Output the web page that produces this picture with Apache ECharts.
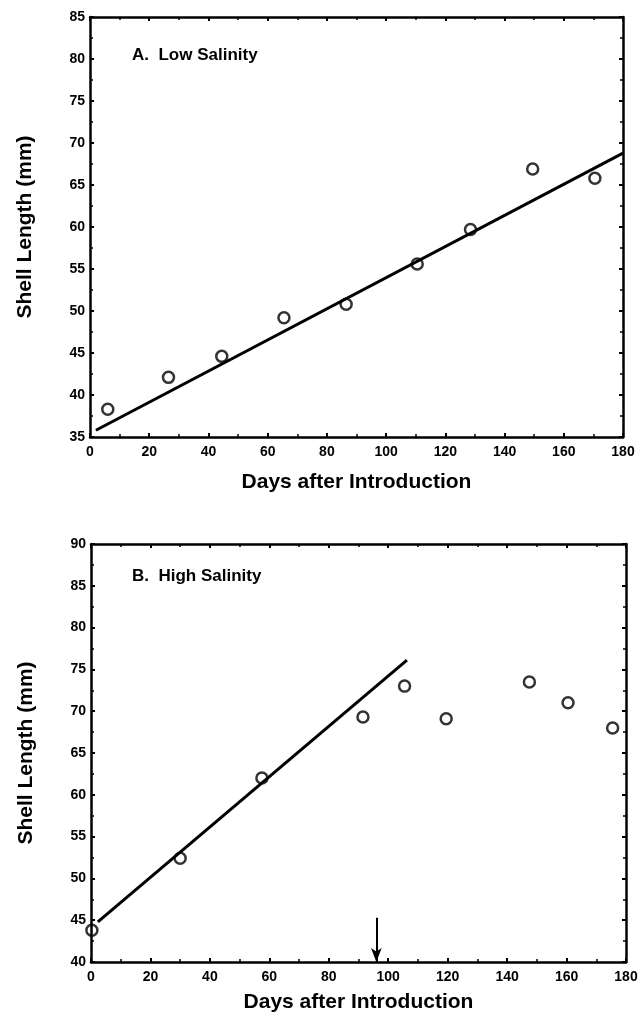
<!DOCTYPE html>
<html>
<head>
<meta charset="utf-8">
<script src="https://cdn.jsdelivr.net/npm/echarts@6/dist/echarts.min.js"></script>
<style>
html,body{margin:0;padding:0;background:#fff;}
#chart{width:644px;height:1017px;}
</style>
</head>
<body>
<div id="chart"></div>
<script>
// ---- Data ----
const xTickLabels = ['0','20','40','60','80','100','120','140','160','180'];
// Panel A: Low Salinity
const daysA   = [6, 26.5, 44.5, 65.5, 86.5, 110.5, 128.5, 149.5, 170.5];
const lengthA = [38.3, 42.1, 44.6, 49.2, 50.8, 55.6, 59.7, 66.9, 65.8];
const fitDaysA   = [2, 180];
const fitLengthA = [35.8, 68.8];
// Panel B: High Salinity
const daysB   = [0.3, 30, 57.5, 91.5, 105.5, 119.5, 147.5, 160.5, 175.5];
const lengthB = [43.8, 52.4, 62.0, 69.3, 73.0, 69.1, 73.5, 71.0, 68.0];
const fitDaysB   = [2.3, 106.3];
const fitLengthB = [44.8, 76.1];
const arrowDay = 96;
const arrowFrom = 45.3;
const arrowTo = 40;

const FONT = '"Liberation Sans", Arial, Helvetica, sans-serif';
const pairs = (xs, ys) => xs.map((x, i) => [x, ys[i]]);

function xAx(grid, pos, showLabel, withName, gap) {
  return {
    type: 'value', gridIndex: grid, position: pos, min: 0, max: 180, interval: 20,
    axisLine: { show: true, onZero: false, lineStyle: { color: '#000', width: 2.5 } },
    axisTick: { show: true, inside: true, length: 4, lineStyle: { color: '#000', width: 2 } },
    minorTick: { show: true, splitNumber: 2, length: 3, lineStyle: { color: '#000', width: 1.5 } },
    splitLine: { show: false }, minorSplitLine: { show: false },
    axisLabel: { show: showLabel, color: '#000', fontFamily: FONT, fontWeight: 'bold', fontSize: 14, margin: 8,
      formatter: v => xTickLabels[Math.round(v / 20)] },
    name: withName ? 'Days after Introduction' : '',
    nameLocation: 'middle', nameGap: gap || 35,
    nameTextStyle: { color: '#000', fontFamily: FONT, fontWeight: 'bold', fontSize: 21 }
  };
}
function yAx(grid, pos, min, max, showLabel, withName) {
  return {
    type: 'value', gridIndex: grid, position: pos, min: min, max: max, interval: 5,
    axisLine: { show: true, onZero: false, lineStyle: { color: '#000', width: 2.5 } },
    axisTick: { show: true, inside: true, length: 4, lineStyle: { color: '#000', width: 2 } },
    minorTick: { show: true, splitNumber: 2, length: 3, lineStyle: { color: '#000', width: 1.5 } },
    splitLine: { show: false }, minorSplitLine: { show: false },
    axisLabel: { show: showLabel, color: '#000', fontFamily: FONT, fontWeight: 'bold', fontSize: 14, margin: 5 },
    name: withName ? 'Shell Length (mm)' : '',
    nameLocation: 'middle', nameGap: 54, nameRotate: 90,
    nameTextStyle: { color: '#000', fontFamily: FONT, fontWeight: 'bold', fontSize: 21 }
  };
}

const scatterStyle = {
  symbol: 'circle', symbolSize: 11, clip: false,
  itemStyle: { color: 'rgba(255,255,255,0)', borderColor: '#000', borderWidth: 2.5 }
};
const lineStyle = { type: 'line', showSymbol: false, symbol: 'none', clip: false,
  lineStyle: { color: '#000', width: 3 }, z: 3 };

const option = {
  animation: false,
  backgroundColor: '#fff',
  title: [
    { text: 'A.  Low Salinity', left: 127, top: 42,
      textStyle: { color: '#000', fontFamily: FONT, fontWeight: 'bold', fontSize: 17 } },
    { text: 'B.  High Salinity', left: 127, top: 563,
      textStyle: { color: '#000', fontFamily: FONT, fontWeight: 'bold', fontSize: 17 } }
  ],
  grid: [
    { left: 90, right: 21, top: 17, height: 420 },
    { left: 91, right: 18, top: 544, height: 418 }
  ],
  xAxis: [
    xAx(0, 'bottom', true, true, 35),
    xAx(0, 'top', false, false),
    xAx(1, 'bottom', true, true, 30),
    xAx(1, 'top', false, false)
  ],
  yAxis: [
    yAx(0, 'left', 35, 85, true, true),
    yAx(0, 'right', 35, 85, false, false),
    yAx(1, 'left', 40, 90, true, true),
    yAx(1, 'right', 40, 90, false, false)
  ],
  series: [
    Object.assign({ type: 'scatter', xAxisIndex: 0, yAxisIndex: 0, data: pairs(daysA, lengthA), z: 4 }, scatterStyle),
    Object.assign({}, lineStyle, { xAxisIndex: 0, yAxisIndex: 0, data: pairs(fitDaysA, fitLengthA) }),
    Object.assign({ type: 'scatter', xAxisIndex: 2, yAxisIndex: 2, data: pairs(daysB, lengthB), z: 4 }, scatterStyle),
    Object.assign({}, lineStyle, { xAxisIndex: 2, yAxisIndex: 2, data: pairs(fitDaysB, fitLengthB),
      markLine: {
        silent: true, animation: false,
        label: { show: false },
        lineStyle: { color: '#000', width: 2, type: 'solid' },
        symbolSize: [8, 14],
        data: [[
          { coord: [arrowDay, arrowFrom], symbol: 'none' },
          { coord: [arrowDay, arrowTo], symbol: 'arrow' }
        ]]
      }
    })
  ]
};

const chart = echarts.init(document.getElementById('chart'), null, { renderer: 'canvas' });
chart.setOption(option);
</script>
</body>
</html>
